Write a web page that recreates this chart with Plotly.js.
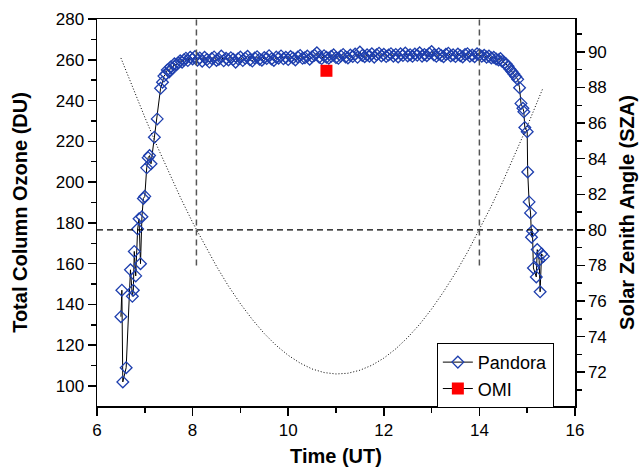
<!DOCTYPE html>
<html>
<head>
<meta charset="utf-8">
<script src="https://cdn.plot.ly/plotly-3.0.1.min.js"></script>
<style>html,body{margin:0;padding:0;background:#fff;}#chart{width:640px;height:472px;}</style>
</head>
<body>
<div id="chart"></div>
<script>
// Pandora total column ozone (DU) vs time (UT)
const pandoraTime = [
6.50,6.52,6.54,6.61,6.70,6.74,6.76,6.78,6.81,6.85,6.88,6.91,6.94,6.97,7.00,7.04,7.07,7.10,7.13,7.20,
7.26,7.33,7.37,7.40,7.44,7.47,7.51,7.54,7.58,7.62,7.66,7.70,7.74,7.78,7.82,7.86,7.90,7.95,
8.00,8.05,8.10,8.15,8.20,8.25,8.30,8.35,8.40,8.45,8.50,8.55,8.60,8.65,8.70,8.75,8.80,8.85,8.90,8.95,
9.00,9.05,9.10,9.15,9.20,9.25,9.30,9.35,9.40,9.45,9.50,9.55,9.60,9.65,9.70,9.75,9.80,9.85,9.90,9.95,
10.00,10.05,10.10,10.15,10.20,10.25,10.30,10.35,10.40,10.45,10.50,10.55,10.60,10.65,10.70,10.75,10.80,10.85,10.90,10.95,
11.00,11.05,11.10,11.15,11.20,11.25,11.30,11.35,11.40,11.45,11.50,11.55,11.60,11.65,11.70,11.75,11.80,11.85,11.90,11.95,
12.00,12.05,12.10,12.15,12.20,12.25,12.30,12.35,12.40,12.45,12.50,12.55,12.60,12.65,12.70,12.75,12.80,12.85,12.90,12.95,
13.00,13.05,13.10,13.15,13.20,13.25,13.30,13.35,13.40,13.45,13.50,13.55,13.60,13.65,13.70,13.75,13.80,13.85,13.90,13.95,
14.00,14.05,14.10,14.15,14.20,14.25,14.30,14.35,14.40,14.44,14.48,14.52,14.56,14.60,14.64,14.68,14.72,14.76,
14.80,14.84,14.87,14.91,14.93,14.95,15.00,15.01,15.04,15.07,15.09,15.11,15.13,15.19,15.21,15.25,15.27,15.30,15.34
];
const pandoraDU = [
134,147,102,109,157,144,147,166,154,177,182,160,183,192,193,207,212,213,209,222,
231,246,249,252,253,255,254,256.5,256,258,257.5,258.5,259.5,258.8,260,260.8,259.6,261.2,
260.4,261.6,259.8,260.9,259.3,261.2,260.1,258.9,260.6,261.4,259.7,260.3,261.8,259.5,260.7,259.9,261.0,260.2,258.8,260.5,
261.3,259.6,260.8,261.7,260.0,259.4,260.9,261.5,260.3,259.8,261.1,260.6,262.0,260.4,259.7,261.3,260.8,261.9,260.5,261.2,
260.1,261.6,260.9,259.9,261.4,262.1,260.7,261.0,261.8,260.3,261.5,262.2,263.4,261.3,260.6,262.0,261.2,260.8,261.7,262.4,
261.1,260.7,261.9,262.6,261.4,260.9,262.3,261.6,262.8,261.2,263.8,262.1,261.5,262.4,261.8,262.9,261.3,262.5,263.2,261.9,
262.7,261.6,262.3,263.0,261.8,262.6,261.4,262.9,262.1,263.3,261.9,262.5,261.7,262.8,262.2,263.4,261.8,262.6,262.0,263.1,
264.0,262.3,261.7,262.9,262.1,261.5,262.7,263.2,261.9,262.4,261.6,262.8,262.0,261.4,262.6,263.0,261.8,262.3,261.5,262.9,
262.4,261.7,262.2,261.3,261.8,260.9,261.2,260.4,259.9,260.6,259.2,258.4,257.9,256.8,255.4,254.2,253.0,251.8,
250.4,246.3,238.6,236.2,234.5,226.8,224.7,205,190.3,184.9,173,176,157.9,153.5,166.9,161.7,146.2,164.8,163.6
];
// OMI overpass
const omiTime = [10.80];
const omiDU = [254.6];
// Solar zenith angle (deg), right axis
const szaTime = [6.50,6.75,7.00,7.25,7.50,7.75,8.00,8.25,8.50,8.75,9.00,9.25,9.50,9.75,10.00,10.25,10.50,10.75,11.00,
11.25,11.50,11.75,12.00,12.25,12.50,12.75,13.00,13.25,13.50,13.75,14.00,14.25,14.50,14.75,15.00,15.25,15.33];
const szaDeg = [89.66,87.97,86.33,84.75,83.24,81.79,80.42,79.14,77.95,76.84,75.85,74.96,74.17,73.50,72.95,72.51,72.18,71.98,71.90,
71.94,72.11,72.39,72.79,73.31,73.95,74.69,75.55,76.52,77.58,78.74,80.00,81.34,82.77,84.26,85.82,87.45,87.97];
// Reference: SZA = 80 deg and the times it is reached
const refSZA = 80;
const refTimes = [8.08, 14.00];
const refLineBottom = 78;
const xRange = [6, 16];
const yRange = [90.2, 280];
const y2Range = [70.1, 91.85];

const font = "Arial, 'Liberation Sans', sans-serif";
const traces = [
  {x: pandoraTime, y: pandoraDU, name: 'Pandora', mode: 'lines+markers', type: 'scatter',
   line: {color: '#000', width: 1},
   marker: {symbol: 'diamond-open', size: 9, color: '#1E3FAE', line: {width: 1.3, color: '#1E3FAE'}}},
  {x: omiTime, y: omiDU, name: 'OMI', mode: 'lines+markers', type: 'scatter',
   line: {color: '#000', width: 1},
   marker: {symbol: 'square', size: 12, color: '#FF0000'}},
  {x: szaTime, y: szaDeg, yaxis: 'y2', mode: 'lines', showlegend: false,
   line: {color: '#000', width: 1, dash: '1px,2px'}},
  {x: xRange, y: [refSZA, refSZA], yaxis: 'y2', mode: 'lines', showlegend: false,
   line: {color: '#000', width: 1.2, dash: '6px,4px'}},
  {x: [refTimes[0], refTimes[0]], y: [refLineBottom, y2Range[1]], yaxis: 'y2', mode: 'lines', showlegend: false,
   line: {color: '#555', width: 1.5, dash: '6px,4px'}},
  {x: [refTimes[1], refTimes[1]], y: [refLineBottom, y2Range[1]], yaxis: 'y2', mode: 'lines', showlegend: false,
   line: {color: '#555', width: 1.5, dash: '6px,4px'}}
];

const axisCommon = {
  showgrid: false, zeroline: false, showline: true, linecolor: '#000', linewidth: 1.5,
  ticks: 'outside', ticklen: 8, tickwidth: 1.5, tickcolor: '#000',
  tickfont: {family: font, size: 17, color: '#000'}
};

const layout = {
  width: 640, height: 472,
  margin: {l: 97, r: 65, t: 19, b: 66, pad: 0},
  paper_bgcolor: '#fff', plot_bgcolor: '#fff',
  showlegend: true,
  legend: {x: 0.711, y: 0.163, xanchor: 'left', yanchor: 'top', bgcolor: '#fff',
    bordercolor: '#000', borderwidth: 1, font: {family: font, size: 18, color: '#000'},
    tracegroupgap: 0},
  xaxis: Object.assign({}, axisCommon, {
    range: xRange, tickmode: 'linear', tick0: 0, dtick: 2, mirror: true,
    minor: {dtick: 1, ticklen: 5, tickwidth: 1.5, tickcolor: '#000', ticks: 'outside'},
    title: {text: '<b>Time (UT)</b>', font: {family: font, size: 20, color: '#000'}, standoff: 10}
  }),
  yaxis: Object.assign({}, axisCommon, {
    range: yRange, tickmode: 'linear', tick0: 0, dtick: 20, mirror: true,
    minor: {dtick: 10, ticklen: 5, tickwidth: 1.5, tickcolor: '#000', ticks: 'outside'},
    title: {text: '<b>Total Column Ozone (DU)</b>', font: {family: font, size: 20, color: '#000'}, standoff: 22}
  }),
  yaxis2: Object.assign({}, axisCommon, {
    overlaying: 'y', side: 'right', range: y2Range, tickmode: 'linear', tick0: 72, dtick: 2,
    minor: {dtick: 1, ticklen: 5, tickwidth: 1.5, tickcolor: '#000', ticks: 'outside'},
    title: {text: '<b>Solar Zenith Angle (SZA)</b>', font: {family: font, size: 20, color: '#000'}, standoff: 14}
  })
};

Plotly.newPlot('chart', traces, layout, {displayModeBar: false, staticPlot: true});
</script>
</body>
</html>
